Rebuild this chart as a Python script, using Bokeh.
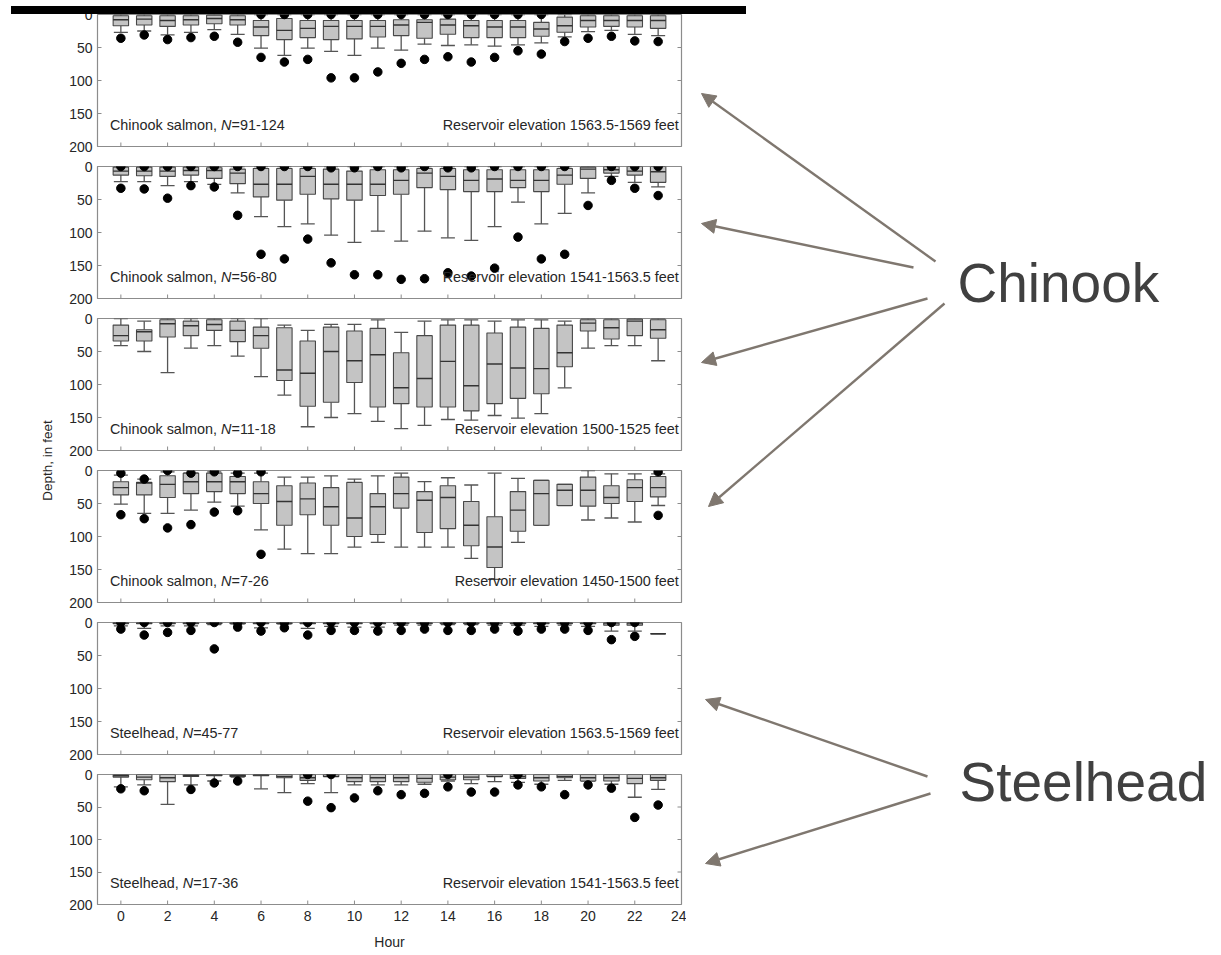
import numpy as np
from bokeh.plotting import figure
from bokeh.layouts import column, row
from bokeh.models import Range1d, FixedTicker, Label, Arrow, NormalHead, Div
from bokeh.embed import file_html
from bokeh.resources import INLINE

# ---------------- data ----------------
HOURS = list(range(24))
X_TICKS = list(range(0, 25, 2))
Y_TICKS = [0, 50, 100, 150, 200]

# Panel 1: Chinook, 1563.5-1569 ft
C1_WL = [0] * 24
C1_Q1 = [2, 2, 2, 2, 1, 2, 9, 6, 9, 9, 9, 9, 8, 8, 7, 9, 9, 9, 12, 4, 2, 2, 2, 2]
C1_MED = [8, 7, 9, 8, 6, 8, 19, 24, 21, 18, 18, 18, 16, 12, 16, 17, 19, 19, 22, 17, 9, 9, 9, 9]
C1_Q3 = [17, 16, 18, 16, 14, 16, 32, 38, 35, 38, 37, 34, 32, 36, 30, 35, 35, 35, 33, 27, 19, 18, 19, 21]
C1_WH = [27, 25, 31, 27, 23, 30, 51, 62, 51, 56, 62, 51, 54, 45, 47, 46, 48, 46, 43, 34, 26, 24, 30, 32]
C1_OUT = [[36], [31], [38], [35], [33], [42], [0, 65], [0, 72], [0, 68], [0, 96], [0, 96], [0, 87],
          [0, 74], [0, 68], [0, 64], [0, 72], [0, 65], [0, 55], [0, 60], [41], [36], [33], [40], [41]]

# Panel 2: Chinook, 1541-1563.5 ft
C2_WL = [0] * 24
C2_Q1 = [1, 1, 1, 1, 2, 4, 3, 3, 3, 4, 7, 5, 5, 3, 3, 5, 5, 5, 5, 3, 1, 0, 0, 0]
C2_MED = [7, 7, 7, 6, 6, 10, 27, 27, 15, 27, 27, 27, 21, 10, 15, 21, 19, 21, 21, 13, 4, 5, 7, 8]
C2_Q3 = [13, 14, 15, 13, 18, 26, 46, 51, 42, 49, 51, 44, 42, 32, 35, 38, 38, 32, 38, 27, 18, 10, 13, 24]
C2_WH = [23, 23, 29, 23, 27, 40, 76, 91, 87, 104, 115, 98, 113, 98, 108, 112, 91, 54, 87, 71, 40, 15, 24, 31]
C2_OUT = [[0, 33], [0, 34], [0, 48], [0, 29], [0, 31], [0, 74], [0, 133], [0, 140], [0, 110], [2, 146],
          [2, 164], [0, 164], [2, 171], [0, 170], [2, 161], [2, 166], [0, 154], [0, 107], [0, 140],
          [0, 133], [59], [0, 21], [0, 33], [0, 44]]

# Panel 3: Chinook, 1500-1525 ft
C3_WL = [0, 4, 0, 0, 0, 0, 0, 10, 18, 9, 9, 2, 21, 4, 2, 2, 4, 2, 2, 4, 0, 0, 0, 0]
C3_Q1 = [10, 17, 2, 4, 2, 4, 13, 14, 34, 13, 19, 15, 52, 26, 10, 10, 22, 13, 15, 10, 2, 2, 1, 2]
C3_MED = [26, 20, 8, 11, 9, 18, 26, 78, 83, 50, 64, 55, 105, 91, 65, 102, 69, 75, 76, 52, 7, 14, 4, 17]
C3_Q3 = [34, 34, 28, 26, 18, 35, 45, 94, 133, 127, 97, 134, 129, 134, 134, 140, 129, 121, 114, 73, 19, 31, 26, 30]
C3_WH = [41, 50, 82, 45, 41, 57, 88, 116, 164, 150, 144, 156, 167, 162, 153, 154, 147, 151, 144, 105, 45, 41, 41, 64]
C3_OUT = [[] for _ in range(24)]

# Panel 4: Chinook, 1450-1500 ft
C4_WL = [7, 13, 2, 4, 2, 4, 4, 10, 10, 8, 13, 8, 4, 17, 11, 22, 4, 12, 15, 21, 0, 5, 5, 5]
C4_Q1 = [17, 18, 8, 4, 4, 9, 17, 23, 19, 26, 18, 35, 10, 32, 23, 47, 70, 32, 15, 21, 10, 23, 14, 9]
C4_MED = [26, 19, 21, 17, 17, 17, 35, 47, 43, 55, 72, 55, 35, 45, 41, 83, 116, 60, 35, 30, 30, 41, 26, 26]
C4_Q3 = [37, 37, 41, 35, 32, 35, 50, 83, 67, 83, 100, 97, 57, 94, 88, 114, 147, 92, 83, 53, 54, 50, 47, 40]
C4_WH = [51, 65, 65, 60, 48, 54, 90, 119, 126, 126, 116, 109, 116, 116, 116, 133, 165, 109, 83, 53, 75, 72, 78, 53]
C4_OUT = [[4, 67], [13, 73], [0, 87], [4, 82], [2, 63], [4, 61], [2, 127], [], [], [], [], [], [], [],
          [], [], [], [], [], [], [], [], [], [2, 68]]

# Panel 5: Steelhead, 1563.5-1569 ft
S1_WL = [0] * 23 + [17]
S1_Q1 = [0] * 23 + [17]
S1_MED = [1] * 23 + [17]
S1_Q3 = [2] * 21 + [4, 4, 17]
S1_WH = [5, 9, 5, 5, 3, 2, 8, 2, 9, 6, 7, 7, 4, 4, 3, 3, 4, 4, 6, 4, 6, 13, 13, 17]
S1_OUT = [[0, 10], [0, 19], [0, 15], [0, 12], [0, 40], [0, 7], [0, 13], [0, 8], [0, 19], [0, 12],
          [0, 12], [0, 13], [0, 12], [0, 10], [0, 12], [0, 12], [0, 10], [0, 13], [0, 10], [0, 10],
          [0, 12], [0, 26], [0, 21], []]

# Panel 6: Steelhead, 1541-1563.5 ft
S2_WL = [0] * 24
S2_Q1 = [0] * 24
S2_MED = [2, 4, 5, 2, 1, 2, 1, 3, 5, 3, 5, 5, 5, 6, 4, 4, 3, 3, 5, 3, 5, 5, 6, 5]
S2_Q3 = [4, 8, 11, 3, 2, 3, 2, 5, 9, 3, 11, 11, 11, 12, 8, 8, 3, 6, 10, 5, 10, 10, 14, 9]
S2_WH = [19, 16, 46, 16, 10, 4, 22, 28, 14, 28, 16, 16, 16, 15, 10, 14, 11, 12, 15, 9, 10, 15, 35, 23]
S2_OUT = [[22], [25], [], [23], [13], [10], [], [], [0, 41], [0, 51], [36], [25], [31], [29], [0, 19],
          [27], [27], [0, 16], [19], [31], [16], [21], [66], [47]]

SPECIES = ["Chinook salmon, ", "Chinook salmon, ", "Chinook salmon, ", "Chinook salmon, ",
           "Steelhead, ", "Steelhead, "]
N_RANGES = ["=91-124", "=56-80", "=11-18", "=7-26", "=45-77", "=17-36"]
ELEVATIONS = ["Reservoir elevation 1563.5-1569 feet", "Reservoir elevation 1541-1563.5 feet",
              "Reservoir elevation 1500-1525 feet", "Reservoir elevation 1450-1500 feet",
              "Reservoir elevation 1563.5-1569 feet", "Reservoir elevation 1541-1563.5 feet"]

PANELS = [
    (C1_WL, C1_Q1, C1_MED, C1_Q3, C1_WH, C1_OUT),
    (C2_WL, C2_Q1, C2_MED, C2_Q3, C2_WH, C2_OUT),
    (C3_WL, C3_Q1, C3_MED, C3_Q3, C3_WH, C3_OUT),
    (C4_WL, C4_Q1, C4_MED, C4_Q3, C4_WH, C4_OUT),
    (S1_WL, S1_Q1, S1_MED, S1_Q3, S1_WH, S1_OUT),
    (S2_WL, S2_Q1, S2_MED, S2_Q3, S2_WH, S2_OUT),
]

# right-hand annotations (page pixel coordinates)
GROUP_LABELS = ["Chinook", "Steelhead"]
GROUP_LABEL_POS = [(957, 282), (959, 781)]
ARROW_TAILS = [(935, 261), (913, 267), (927, 298), (944, 303), (927, 776), (930, 793)]
ARROW_TIPS = [(701, 93), (701, 223), (701, 362), (708, 506), (705, 699), (705, 863)]

# ---------------- style ----------------
FONT = "Liberation Sans"
FRAME = "#8c8c8c"
BOX_FILL = "#c4c4c4"
BOX_LINE = "#484848"
WHISK = "#555555"
ARROW_C = "#7f776f"
TXT = "#262626"
BOX_W = 0.66
CAP_W = 0.6
SMALL_FS = 14.4
EM_SPECIES = {"Chinook salmon, ": 7.725, "Steelhead, ": 5.059}
EM_N = 0.722

LAB_W = 58
PANEL_W = 628
FRAME_H = 132
BAR_H = 8
PAGE_W = 1213
TICK_X = 4 / 23.36   # 4 px in hours
TICK_Y = 4 * 200 / FRAME_H  # 4 px in feet


def make_panel(i, data, first, last):
    wl, q1, med, q3, wh, out = data
    top = 6 if first else 8
    bottom = 46 if last else 12
    p = figure(width=PANEL_W, height=top + FRAME_H + bottom, title=None,
               x_range=Range1d(-1, 24), y_range=Range1d(200, 0),
               output_backend="svg", toolbar_location=None,
               min_border_left=39, min_border_right=5,
               min_border_top=top, min_border_bottom=bottom)
    p.grid.visible = False
    p.outline_line_color = FRAME
    p.outline_line_width = 1.2
    p.background_fill_color = "white"

    p.yaxis.ticker = FixedTicker(ticks=Y_TICKS)
    p.yaxis.axis_line_color = None
    p.yaxis.major_tick_in = 4
    p.yaxis.major_tick_out = 0
    p.yaxis.major_tick_line_color = FRAME
    p.yaxis.minor_tick_line_color = None
    p.yaxis.major_label_text_font = FONT
    p.yaxis.major_label_text_font_size = "14px"
    p.yaxis.major_label_text_color = TXT
    p.yaxis.major_label_standoff = 5

    if last:
        p.xaxis.ticker = FixedTicker(ticks=X_TICKS)
        p.xaxis.axis_line_color = None
        p.xaxis.major_tick_in = 0
        p.xaxis.major_tick_out = 0
        p.xaxis.minor_tick_line_color = None
        p.xaxis.major_label_text_font = FONT
        p.xaxis.major_label_text_font_size = "14px"
        p.xaxis.major_label_text_color = TXT
        p.xaxis.major_label_standoff = 6
        p.xaxis.axis_label = "Hour"
        p.xaxis.axis_label_text_font = FONT
        p.xaxis.axis_label_text_font_size = "14px"
        p.xaxis.axis_label_text_font_style = "normal"
        p.xaxis.axis_label_text_color = TXT
        p.xaxis.axis_label_standoff = 10
    else:
        p.xaxis.visible = False

    # inside tick marks along the bottom and right edges of the frame
    xt = np.array(X_TICKS, dtype=float)
    yt = np.array(Y_TICKS, dtype=float)
    p.segment(xt, np.full_like(xt, 200.0), xt, np.full_like(xt, 200.0 - TICK_Y),
              line_color=FRAME, line_width=1)
    p.segment(np.full_like(yt, 24.0), yt, np.full_like(yt, 24.0 - TICK_X), yt,
              line_color=FRAME, line_width=1)

    x = np.array(HOURS, dtype=float)
    wl, q1, med, q3, wh = (np.array(a, dtype=float) for a in (wl, q1, med, q3, wh))

    # whiskers and caps
    p.segment(x, wl, x, q1, line_color=WHISK, line_width=1.3)
    p.segment(x, q3, x, wh, line_color=WHISK, line_width=1.3)
    p.segment(x - CAP_W / 2, wl, x + CAP_W / 2, wl, line_color=WHISK, line_width=1.3)
    p.segment(x - CAP_W / 2, wh, x + CAP_W / 2, wh, line_color=WHISK, line_width=1.3)
    # boxes
    p.vbar(x=x, width=BOX_W, top=q1, bottom=q3, fill_color=BOX_FILL,
           line_color=BOX_LINE, line_width=1.1)
    # medians
    p.segment(x - BOX_W / 2, med, x + BOX_W / 2, med, line_color="#333333", line_width=1.4)
    # outliers
    ox = [h for h, vals in zip(HOURS, out) for _ in vals]
    oy = [v for vals in out for v in vals]
    if ox:
        p.scatter(ox, oy, size=8.5, fill_color="black", line_color="black")

    # texts
    sp = SPECIES[i]
    ty = 167
    p.add_layout(Label(x=-0.47, y=ty, text=sp, text_font=FONT, text_font_size=f"{SMALL_FS}px",
                       text_color=TXT, text_baseline="middle"))
    off = EM_SPECIES[sp] * SMALL_FS
    p.add_layout(Label(x=-0.47, y=ty, x_offset=off, text="N", text_font=FONT,
                       text_font_style="italic", text_font_size=f"{SMALL_FS}px",
                       text_color=TXT, text_baseline="middle"))
    p.add_layout(Label(x=-0.47, y=ty, x_offset=off + EM_N * SMALL_FS, text=N_RANGES[i],
                       text_font=FONT, text_font_size=f"{SMALL_FS}px",
                       text_color=TXT, text_baseline="middle"))
    p.add_layout(Label(x=23.88, y=ty, text=ELEVATIONS[i], text_font=FONT,
                       text_font_size=f"{SMALL_FS}px", text_color=TXT,
                       text_align="right", text_baseline="middle"))
    return p


panels = [make_panel(i, d, i == 0, i == len(PANELS) - 1) for i, d in enumerate(PANELS)]
col_h = sum(p.height for p in panels)

# y-axis title column
lab = figure(width=LAB_W, height=col_h, title=None, x_range=Range1d(0, LAB_W),
             y_range=Range1d(BAR_H + col_h, BAR_H),
             output_backend="svg", toolbar_location=None, x_axis_type=None, y_axis_type=None,
             min_border=0, outline_line_color=None)
lab.grid.visible = False
lab.add_layout(Label(x=47, y=460, text="Depth, in feet", angle=np.pi / 2, text_font=FONT,
                     text_font_size="13.5px", text_color=TXT, text_align="center",
                     text_baseline="middle"))

# annotation area on the right
ann_x0 = LAB_W + PANEL_W
ann = figure(width=PAGE_W - ann_x0, height=col_h, title=None, x_range=Range1d(ann_x0, PAGE_W),
             y_range=Range1d(BAR_H + col_h, BAR_H), output_backend="svg",
             toolbar_location=None, x_axis_type=None, y_axis_type=None, min_border=0,
             outline_line_color=None)
ann.grid.visible = False
for (tx, ty), (hx, hy) in zip(ARROW_TAILS, ARROW_TIPS):
    ann.add_layout(Arrow(x_start=tx, y_start=ty, x_end=hx, y_end=hy, line_color=ARROW_C,
                         line_width=2.4,
                         end=NormalHead(size=14, fill_color=ARROW_C, line_color=ARROW_C,
                                        line_width=1)))
for txt, (gx, gy) in zip(GROUP_LABELS, GROUP_LABEL_POS):
    ann.add_layout(Label(x=gx, y=gy, text=txt, text_font=FONT, text_font_size="55px",
                         text_color="#404040", text_baseline="alphabetic"))

# black strip across the top (cropped edge of the source figure), nudged down over panel 1
bar = Div(text="", width=735, height=BAR_H, margin=(0, 0, 0, 11),
          styles={"background-color": "black", "position": "relative", "top": "6px",
                  "z-index": "10"})

layout = column(bar, row(lab, column(*panels), ann))
open("out.html", "w").write(file_html(layout, INLINE))
